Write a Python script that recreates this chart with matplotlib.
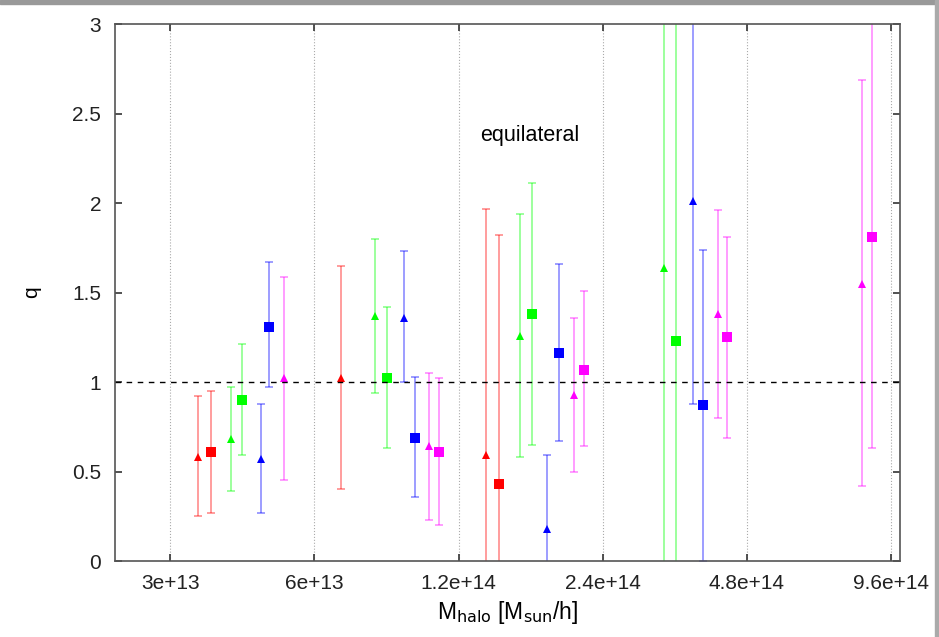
import matplotlib.pyplot as plt
import matplotlib.patches as patches
import numpy as np

plt.rcParams['font.family'] = ['Liberation Sans', 'DejaVu Sans']

# halo mass, q value, lower and upper end of error bar, for each colour/marker
red_tri_m = [3.42e13, 6.83e13, 1.37e14]
red_tri_q = [0.58, 1.02, 0.59]
red_tri_lo = [0.25, 0.40, -0.5]
red_tri_hi = [0.92, 1.65, 1.97]

red_sq_m = [3.64e13, 1.46e14]
red_sq_q = [0.61, 0.43]
red_sq_lo = [0.27, -0.5]
red_sq_hi = [0.95, 1.82]

green_tri_m = [4.02e13, 8.01e13, 1.61e14, 3.22e14]
green_tri_q = [0.68, 1.37, 1.26, 1.64]
green_tri_lo = [0.39, 0.94, 0.58, -0.5]
green_tri_hi = [0.97, 1.80, 1.94, 3.5]

green_sq_m = [4.24e13, 8.49e13, 1.71e14, 3.41e14]
green_sq_q = [0.90, 1.02, 1.38, 1.23]
green_sq_lo = [0.59, 0.63, 0.65, -0.5]
green_sq_hi = [1.21, 1.42, 2.11, 3.5]

blue_tri_m = [4.63e13, 9.21e13, 1.84e14, 3.70e14]
blue_tri_q = [0.57, 1.36, 0.18, 2.01]
blue_tri_lo = [0.27, 1.00, -0.5, 0.88]
blue_tri_hi = [0.88, 1.73, 0.59, 3.5]

blue_sq_m = [4.83e13, 9.71e13, 1.94e14, 3.88e14]
blue_sq_q = [1.31, 0.69, 1.16, 0.87]
blue_sq_lo = [0.97, 0.36, 0.67, 0.0]
blue_sq_hi = [1.67, 1.03, 1.66, 1.74]

mag_tri_m = [5.19e13, 1.04e14, 2.09e14, 4.18e14, 8.35e14]
mag_tri_q = [1.02, 0.64, 0.93, 1.38, 1.55]
mag_tri_lo = [0.45, 0.23, 0.50, 0.80, 0.42]
mag_tri_hi = [1.59, 1.05, 1.36, 1.96, 2.69]

mag_sq_m = [1.09e14, 2.19e14, 4.36e14, 8.76e14]
mag_sq_q = [0.61, 1.07, 1.25, 1.81]
mag_sq_lo = [0.20, 0.64, 0.69, 0.63]
mag_sq_hi = [1.02, 1.51, 1.81, 3.5]

xticks = [3e13, 6e13, 1.2e14, 2.4e14, 4.8e14, 9.6e14]
xtick_labels = ['3e+13', '6e+13', '1.2e+14', '2.4e+14', '4.8e+14', '9.6e+14']
yticks = [0, 0.5, 1, 1.5, 2, 2.5, 3]
ytick_labels = ['0', '0.5', '1', '1.5', '2', '2.5', '3']

series = [
    (red_tri_m, red_tri_q, red_tri_lo, red_tri_hi, '#ff0000', '^'),
    (red_sq_m, red_sq_q, red_sq_lo, red_sq_hi, '#ff0000', 's'),
    (green_tri_m, green_tri_q, green_tri_lo, green_tri_hi, '#00ff00', '^'),
    (green_sq_m, green_sq_q, green_sq_lo, green_sq_hi, '#00ff00', 's'),
    (blue_tri_m, blue_tri_q, blue_tri_lo, blue_tri_hi, '#0000ff', '^'),
    (blue_sq_m, blue_sq_q, blue_sq_lo, blue_sq_hi, '#0000ff', 's'),
    (mag_tri_m, mag_tri_q, mag_tri_lo, mag_tri_hi, '#ff00ff', '^'),
    (mag_sq_m, mag_sq_q, mag_sq_lo, mag_sq_hi, '#ff00ff', 's'),
]

fig = plt.figure(figsize=(9.39, 6.37), dpi=100)
ax = fig.add_axes([0.1225, 0.1193, 0.8355, 0.8427])

for m, q, lo, hi, col, mk in series:
    m = np.array(m)
    q = np.array(q)
    yerr = [q - np.array(lo), np.array(hi) - q]
    ax.errorbar(m, q, yerr=yerr, fmt='none', ecolor=col, alpha=0.45,
                elinewidth=1.2, capsize=3, capthick=1.2)
    ax.plot(m, q, linestyle='none', marker=mk, color=col,
            markersize=6.5 if mk == 's' else 6, markeredgewidth=0)

ax.axhline(1, color='black', linestyle=(0, (4, 4)), linewidth=1)

ax.set_xscale('log')
ax.set_xlim(2.3e13, 1.0e15)
ax.set_ylim(0, 3)
ax.set_xticks(xticks)
ax.set_xticklabels(xtick_labels)
ax.xaxis.set_minor_locator(plt.NullLocator())
ax.set_yticks(yticks)
ax.set_yticklabels(ytick_labels)

ax.grid(axis='x', color='#aaaaaa', linestyle=':', linewidth=0.8)
ax.tick_params(direction='in', top=True, right=True, length=5, width=1.2,
               labelsize=15, colors='#333333', labelcolor='#222222')
ax.tick_params(axis='y', pad=10)
ax.tick_params(axis='x', pad=9)
for s in ax.spines.values():
    s.set_color('#555555')
    s.set_linewidth(1.2)

ax.text(1.69e14, 2.38, 'equilateral', ha='center', va='center', fontsize=15.5)
ax.set_xlabel(r'M$_{\mathrm{halo}}$ [M$_{\mathrm{sun}}$/h]', fontsize=16.5, labelpad=5)
ax.set_ylabel('q', fontsize=15, labelpad=22)

# grey frame of the screenshot at top and right
fig.patches.append(patches.Rectangle((0, 0.993), 1, 0.007, transform=fig.transFigure,
                                     color='#999999', zorder=-1))
fig.patches.append(patches.Rectangle((0.996, 0), 0.004, 1, transform=fig.transFigure,
                                     color='#aaaaaa', zorder=-1))

fig.savefig('out.png', dpi=100)
